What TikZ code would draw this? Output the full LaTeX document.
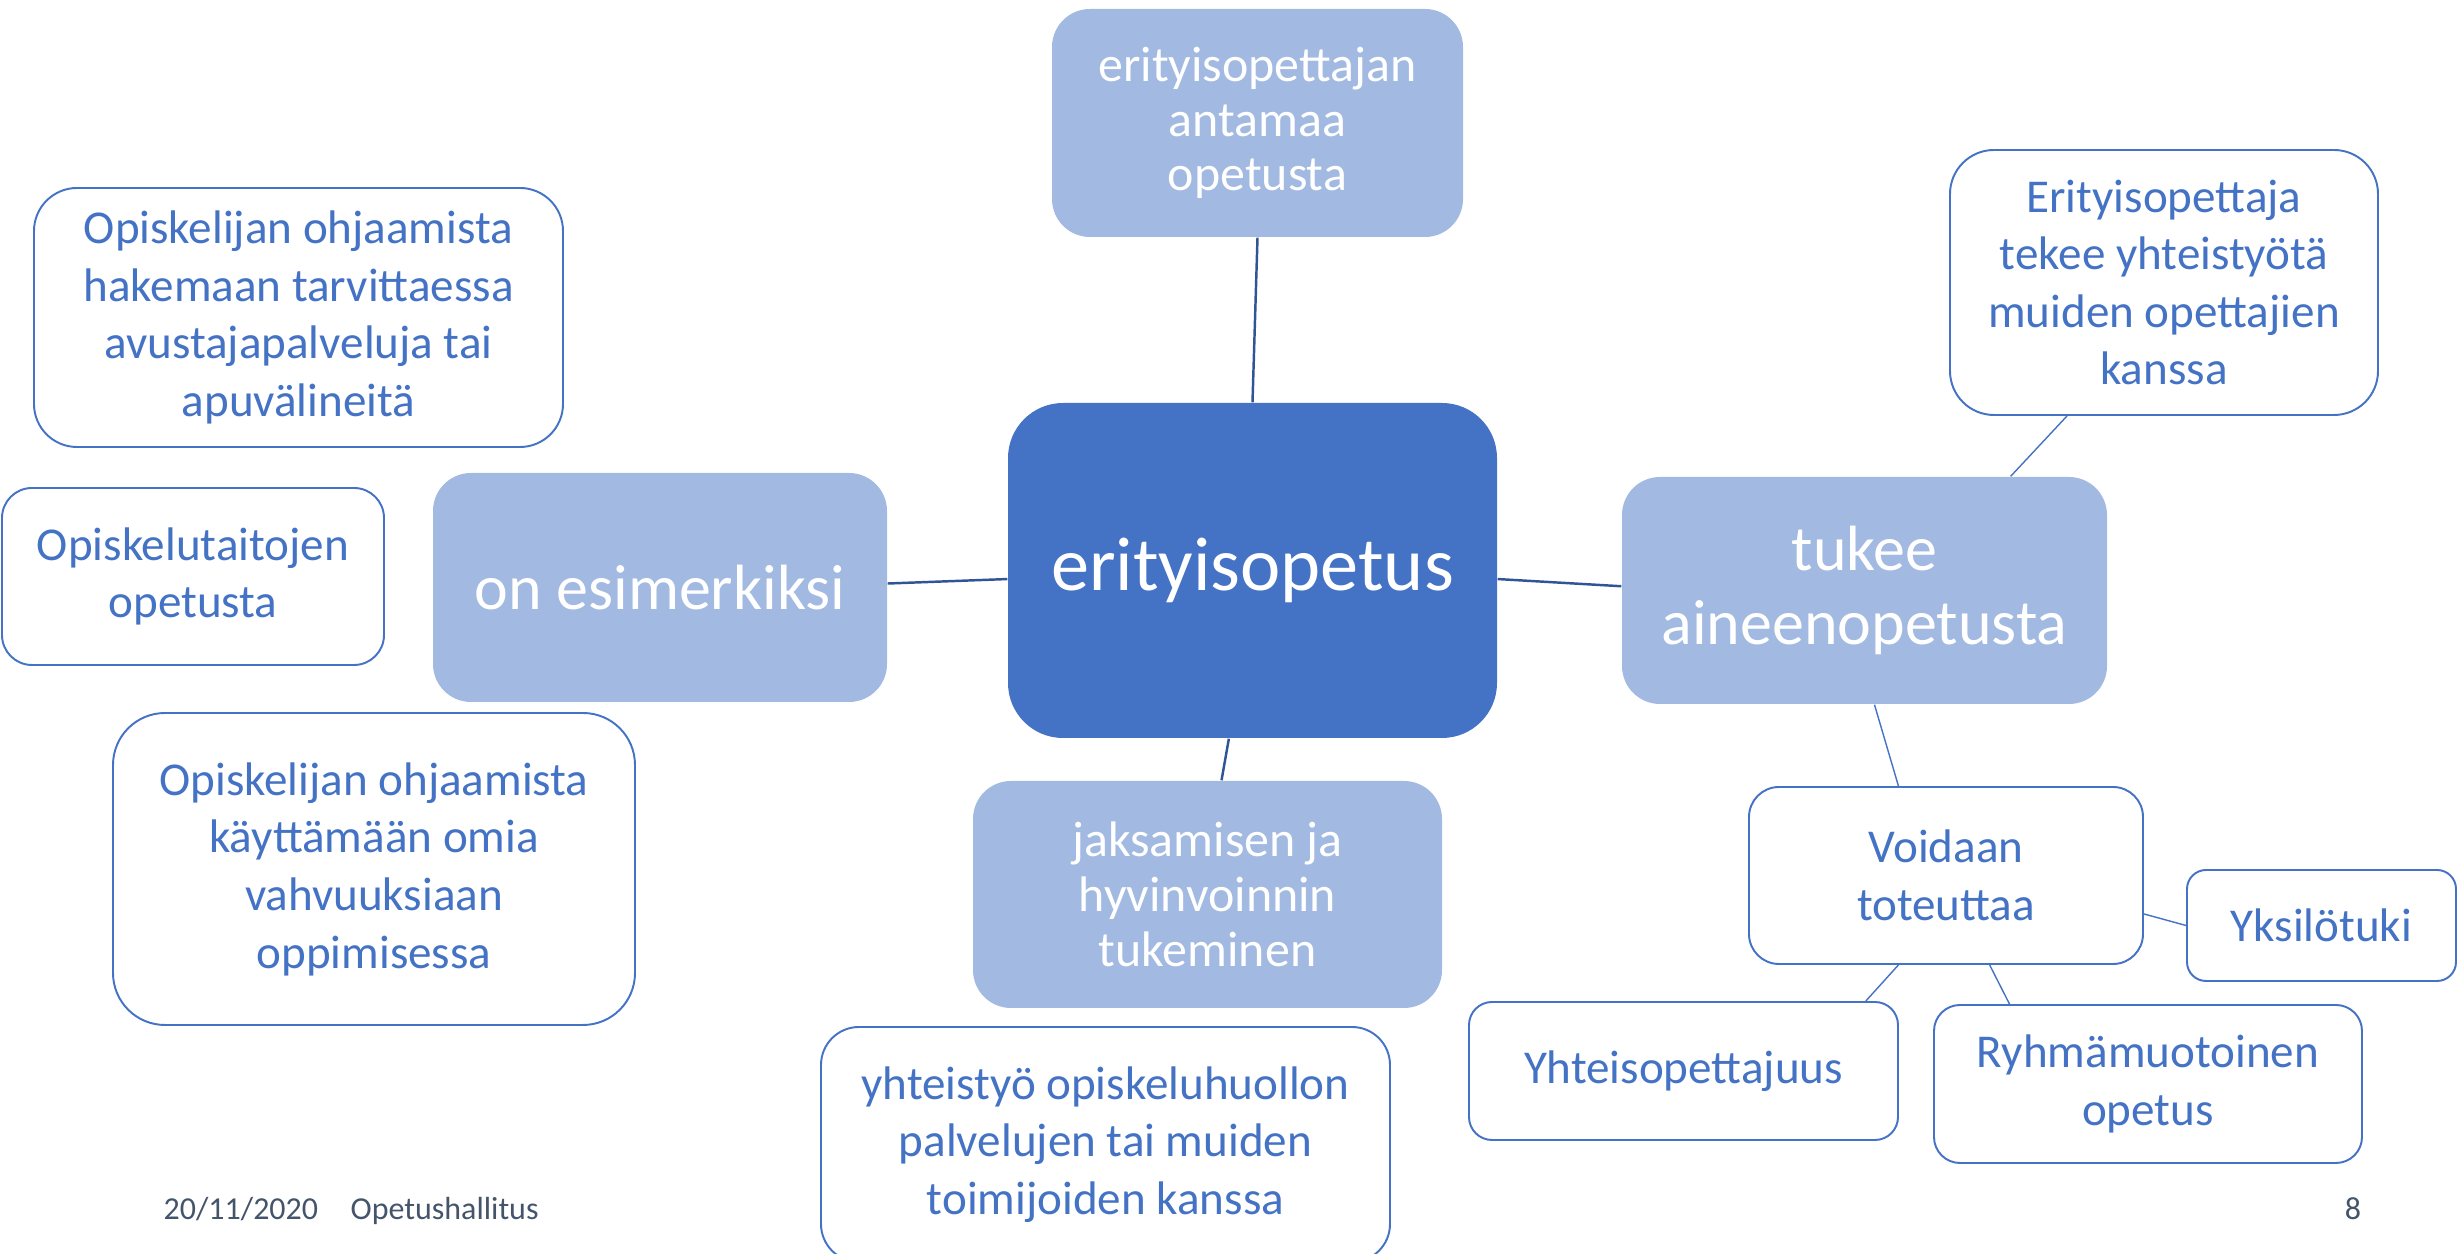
\documentclass[tikz,border=0pt]{standalone}
\usepackage{fontspec}
\setmainfont{Carlito}
\definecolor{hubblue}{HTML}{4472C4}
\definecolor{branchblue}{HTML}{A2B9E1}
\definecolor{linkblue}{HTML}{2F5597}
\definecolor{footgray}{HTML}{44546A}
\tikzset{
    hub/.style={fill=hubblue, text=white, align=center, inner sep=0pt, rounded corners=0.55cm,
        font=\fontsize{21.7}{26}\selectfont},
    branch/.style={fill=branchblue, text=white, align=center, inner sep=0pt, rounded corners=0.38cm},
    bigtext/.style={font=\fontsize{18.2}{21}\selectfont},
    smalltext/.style={font=\fontsize{14.2}{15.6}\selectfont},
    leaf/.style={draw=hubblue, line width=0.55pt, fill=white, text=hubblue, align=center, inner sep=0pt,
        rounded corners=#1, font=\fontsize{13.4}{16.4}\selectfont},
    leaf/.default=0.4cm,
    link/.style={draw=linkblue, line width=0.7pt},
    twig/.style={draw=hubblue, line width=0.4pt},
    foot/.style={text=footgray, font=\fontsize{9.1}{11}\selectfont, inner sep=0pt}
}
\begin{document}
\begin{tikzpicture}
    \useasboundingbox (0,0) rectangle (24.58,-12.54);

    \node[hub, minimum width=4.89cm, minimum height=3.35cm] (erit) at (12.525,-5.705) {erityisopetus};

    \node[branch, smalltext, minimum width=4.11cm, minimum height=2.28cm] (antamaa) at (12.575,-1.23) {erityisopettajan\\antamaa\\opetusta};
    \node[branch, bigtext, minimum width=4.54cm, minimum height=2.29cm] (esim) at (6.60,-5.875) {on esimerkiksi};
    \node[branch, bigtext, minimum width=4.85cm, minimum height=2.27cm] (tukee) at (18.645,-5.905) {tukee\\aineenopetusta};
    \node[branch, smalltext, minimum width=4.69cm, minimum height=2.27cm] (jaksa) at (12.075,-8.945) {jaksamisen ja\\hyvinvoinnin\\tukeminen};

    \node[leaf=0.43cm, minimum width=5.29cm, minimum height=2.59cm] (hakemaan) at (2.985,-3.175) {Opiskelijan ohjaamista\\hakemaan tarvittaessa\\avustajapalveluja tai\\apuvälineitä};
    \node[leaf=0.3cm, minimum width=3.82cm, minimum height=1.77cm] (taidot) at (1.93,-5.765) {Opiskelutaitojen\\opetusta};
    \node[leaf=0.52cm, minimum width=5.22cm, minimum height=3.12cm] (vahvuus) at (3.74,-8.69) {Opiskelijan ohjaamista\\käyttämään omia\\vahvuuksiaan\\oppimisessa};
    \node[leaf=0.38cm, minimum width=5.69cm, minimum height=2.35cm] (huolto) at (11.055,-11.445) {yhteistyö opiskeluhuollon\\palvelujen tai muiden\\toimijoiden kanssa};

    \node[leaf=0.44cm, minimum width=4.28cm, minimum height=2.65cm] (yhteis) at (21.64,-2.825) {Erityisopettaja\\tekee yhteistyötä\\muiden opettajien\\kanssa};
    \node[leaf=0.3cm, minimum width=3.94cm, minimum height=1.77cm] (voidaan) at (19.46,-8.755) {Voidaan\\toteuttaa};
    \node[leaf=0.19cm, minimum width=2.69cm, minimum height=1.11cm] (yksilo) at (23.215,-9.255) {Yksilötuki};
    \node[leaf=0.23cm, minimum width=4.29cm, minimum height=1.38cm] (yhtope) at (16.835,-10.71) {Yhteisopettajuus};
    \node[leaf=0.26cm, minimum width=4.28cm, minimum height=1.58cm] (ryhma) at (21.48,-10.84) {Ryhmämuotoinen\\opetus};

    \draw[link] (antamaa.south) -- (erit.north);
    \draw[link] (esim.1) -- (erit.182);
    \draw[link] (erit.358) -- (tukee.179);
    \draw[link] (erit.262) -- (jaksa.83);

    \draw[twig] (yhteis.234) -- (tukee.38);
    \draw[twig] (tukee.275) -- (voidaan.118);
    \draw[twig] (voidaan.349) -- (yksilo.west);
    \draw[twig] (voidaan.242) -- (yhtope.21);
    \draw[twig] (voidaan.296) -- (ryhma.150);

    \node[foot, anchor=base west] (pvm) at (1.63,-12.20) {20/11/2020};
    \node[foot, anchor=base west] (virasto) at (3.50,-12.20) {Opetushallitus};
    \node[foot, anchor=base] (sivu) at (23.53,-12.20) {8};
\end{tikzpicture}
\end{document}
